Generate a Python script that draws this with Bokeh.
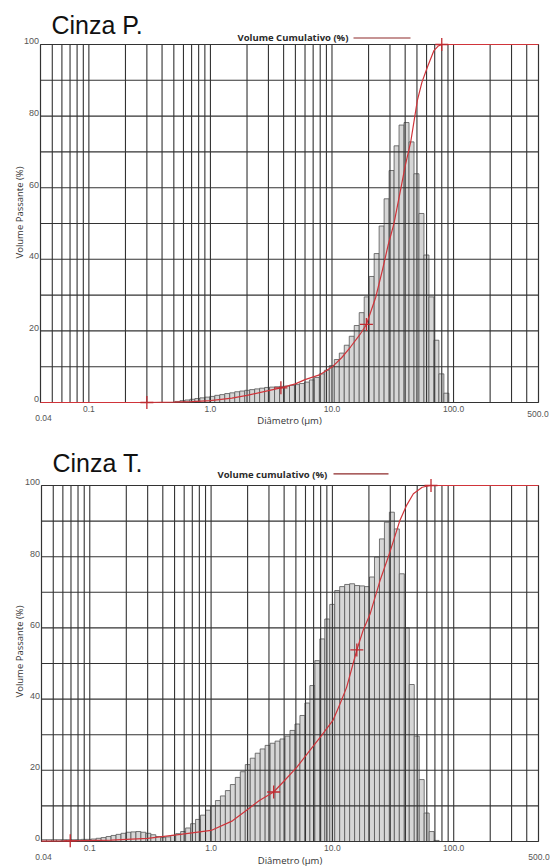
import numpy as np
from math import log10, pi
from bokeh.plotting import figure
from bokeh.models import Range1d, Label
from bokeh.layouts import column
from bokeh.embed import file_html
from bokeh.resources import INLINE

# ---------------- data ----------------
X_MIN, X_MAX = 0.04, 500.0
N_BINS = 100

# Cinza P. : volume per class (100 log classes 0.04-500 um)
P_VOL = [0.0] * 27 + [
    0.3, 0.5, 0.7, 0.9, 1.1, 1.3, 1.5, 1.7, 2.0, 2.2,
    2.5, 2.7, 3.0, 3.2, 3.4, 3.6, 3.8, 4.0, 4.2, 4.3,
    4.4, 4.5, 4.6, 4.8, 5.0, 5.3, 5.7, 6.3, 7.0, 8.0,
    9.0, 10.3, 12.0, 13.8, 16.0, 18.5, 21.5, 25.1, 29.5, 35.2,
    41.6, 49.3, 56.9, 64.8, 71.7, 77.5, 78.2, 72.8, 63.9, 52.8,
    41.2, 29.5, 17.4, 8.0, 2.6] + [0.0] * 18

# Cinza T.
T_VOL = [0.5, 0.5, 0.5, 0.5, 0.5, 0.5, 0.5, 0.5, 0.6, 0.6,
         0.7, 0.9, 1.1, 1.4, 1.7, 2.0, 2.3, 2.6, 2.7, 2.8,
         2.6, 2.3, 1.9, 1.4, 1.1, 1.3, 1.7, 2.2, 2.8, 3.8,
         5.0, 6.2, 7.4, 8.8, 10.0, 11.5, 12.8, 14.3, 16.0, 18.0,
         19.6, 21.6, 23.4, 24.8, 26.0, 27.0, 27.6, 28.2, 28.8, 29.6,
         31.2, 33.0, 35.4, 38.9, 43.8, 50.8, 56.9, 62.5, 66.6, 70.5,
         71.6, 72.2, 72.4, 71.9, 71.8, 71.6, 74.3, 79.9, 85.0, 89.7,
         92.5, 87.8, 75.2, 60.0, 44.1, 29.6, 17.4, 8.0, 2.8, 0.3] + [0.0] * 20

# cumulative curves (diameter um, volume %)
P_CUM_D = [0.04, 0.3, 0.5, 0.7, 1.0, 1.5, 2.0, 3.0, 3.8, 5.0, 6.0, 8.0, 10.0, 12.0,
           14.2, 17.0, 19.2, 22.9, 26.0, 29.0, 32.3, 36.0, 40.0, 44.4, 50.4, 55.0,
           61.0, 69.0, 75.0, 80.0, 500.0]
P_CUM_V = [0.0, 0.0, 0.1, 0.25, 0.5, 1.2, 2.0, 3.3, 4.1, 5.2, 6.4, 7.8, 9.9, 12.5,
           15.5, 19.0, 21.8, 29.4, 37.0, 44.0, 49.9, 58.0, 66.0, 72.7, 84.4, 89.5,
           93.7, 98.3, 99.6, 100.0, 100.0]
T_CUM_D = [0.04, 0.07, 0.15, 0.3, 0.56, 1.0, 1.5, 2.0, 2.5, 3.28, 4.0, 5.1, 6.5, 7.95,
           10.1, 11.5, 13.1, 15.9, 18.0, 20.5, 24.7, 29.8, 36.0, 41.0, 46.5, 55.0,
           63.8, 500.0]
T_CUM_V = [0.1, 0.2, 0.4, 0.9, 2.0, 3.1, 5.8, 9.0, 11.5, 13.9, 17.0, 20.9, 25.5, 29.3,
           34.0, 38.5, 43.3, 53.8, 59.5, 64.0, 73.3, 81.3, 90.2, 94.5, 97.7, 99.5,
           100.0, 100.0]

# cross markers on the curves
P_MARK_D = [0.3, 3.8, 19.2, 80.0]
P_MARK_V = [0.0, 4.1, 21.8, 100.0]
T_MARK_D = [0.069, 3.28, 15.9, 65.0]
T_MARK_V = [0.2, 13.9, 53.8, 100.0]

GRID_X = [0.05, 0.06, 0.07, 0.08, 0.09,
          0.1, 0.2, 0.3, 0.4, 0.5, 0.6, 0.7, 0.8, 0.9,
          1, 2, 3, 4, 5, 6, 7, 8, 9,
          10, 20, 30, 40, 50, 60, 70, 80, 90,
          100, 200, 300, 400]
GRID_Y = [10, 20, 30, 40, 50, 60, 70, 80, 90]
X_TICKS = [0.1, 1, 10, 100]
X_TICK_LABELS = ["0.1", "1.0", "10.0", "100.0"]
Y_TICKS = [0, 20, 40, 60, 80, 100]

edges = np.logspace(log10(X_MIN), log10(X_MAX), N_BINS + 1)

GRID_COL = "#333333"
CURVE_COL = "#d0343a"
LEG_COL = "#8e2a2a"
TICK_FONT = "Liberation Sans"
TXT_FONT = "Open Sans"
TICK_COL = "#555555"
BASE_SHIFT = 0.35   # bokeh places an alphabetic baseline ~0.35em low


def build(title, legend_text, vol, cd, cv, md, mv, H, L, R, T, B, lay):
    a, b = log10(X_MIN), log10(X_MAX)

    def fx(px):
        return 10 ** (a + (px - L) / (R - L) * (b - a))

    def fy(py):
        return (B - py) / (B - T) * 100.0

    def py_of(v):
        return B - v / 100.0 * (B - T)

    # the frame covers the whole canvas; the chart box is drawn in data units
    p = figure(width=551, height=H, x_axis_type="log",
               x_range=Range1d(fx(0), fx(551)), y_range=Range1d(fy(H), fy(0)),
               x_axis_location=None, y_axis_location=None,
               output_backend="svg", toolbar_location=None,
               min_border=0)
    p.title.visible = False
    p.grid.visible = False
    p.outline_line_color = None
    p.background_fill_color = "white"
    p.border_fill_color = "white"

    # histogram bars
    idx = [i for i, v in enumerate(vol) if v > 0]
    p.quad(left=[edges[i] for i in idx], right=[edges[i + 1] for i in idx],
           bottom=0, top=[vol[i] for i in idx],
           fill_color="#d6d6d6", line_color="#555555", line_width=0.8)

    # grid (drawn over the bars, as in the original)
    p.segment(x0=GRID_X, y0=0, x1=GRID_X, y1=100, line_color=GRID_COL, line_width=1.1)
    p.segment(x0=X_MIN, y0=GRID_Y, x1=X_MAX, y1=GRID_Y, line_color=GRID_COL, line_width=1.1)
    # chart box
    p.quad(left=[X_MIN], right=[X_MAX], bottom=[0], top=[100],
           fill_color=None, line_color=GRID_COL, line_width=1.2)

    # cumulative curve + markers
    p.line(cd, cv, line_color=CURVE_COL, line_width=1.2)
    p.scatter(md, mv, marker="cross", size=13, line_color="#c02a30", line_width=1.3)

    def lab(x, py, text, font, size, color, align, baseline="alphabetic",
            angle=0.0, style="normal"):
        if baseline == "alphabetic":
            py = py - BASE_SHIFT * size
        p.add_layout(Label(x=x, y=fy(py), text=text, text_font=font,
                           text_font_size=f"{size}px", text_font_style=style,
                           text_color=color, text_align=align,
                           text_baseline=baseline, angle=angle))

    # title
    lab(fx(lay["title_x"]), lay["title_y"], title, TICK_FONT, 25, "#111111", "left")
    # legend
    lab(fx(lay["leg_x"]), lay["leg_y"], legend_text, TXT_FONT, 9.5, "#2a2a2a", "left",
        style="bold")
    p.line([fx(lay["leg_l0"]), fx(lay["leg_l1"])], [fy(lay["leg_ly"])] * 2,
           line_color=LEG_COL, line_width=1.2)
    # y tick labels
    for v in Y_TICKS:
        lab(fx(L - 1.5), py_of(v), str(v), TICK_FONT, 9, TICK_COL, "right")
    # x tick labels
    for v, t in zip(X_TICKS, X_TICK_LABELS):
        lab(v, B + lay["xt_dy"], t, TICK_FONT, 8.5, TICK_COL, "center")
    lab(fx(43), lay["x0_y"], "0.04", TICK_FONT, 8.5, TICK_COL, "center")
    lab(fx(lay["x1_x"]), lay["x1_y"], "500.0", TICK_FONT, 8.5, TICK_COL, "center")
    # axis titles
    lab(fx(lay["xl_x"]), lay["xl_y"], "Diâmetro (µm)", TXT_FONT, 9.5, "#333333", "center")
    lab(fx(19), lay["yl_y"], "Volume Passante (%)", TXT_FONT, 9.5, "#333333",
        "center", "middle", pi / 2)
    return p


p1 = build("Cinza P.", "Volume Cumulativo (%)", P_VOL, P_CUM_D, P_CUM_V,
           P_MARK_D, P_MARK_V, H=433, L=40, R=538, T=44, B=402,
           lay=dict(title_x=51, title_y=33.3, leg_x=237, leg_y=40.5,
                    leg_l0=353, leg_l1=410, leg_ly=37.5, xt_dy=9.5,
                    x0_y=420.7, x1_x=537.5, x1_y=416.7,
                    xl_x=289, xl_y=423.5, yl_y=212))
p2 = build("Cinza T.", "Volume cumulativo (%)", T_VOL, T_CUM_D, T_CUM_V,
           T_MARK_D, T_MARK_V, H=434, L=41, R=538, T=52, B=408,
           lay=dict(title_x=52, title_y=38, leg_x=217, leg_y=44,
                    leg_l0=333, leg_l1=388, leg_ly=40.3, xt_dy=9.5,
                    x0_y=426, x1_x=538.5, x1_y=426,
                    xl_x=289.5, xl_y=430.5, yl_y=218))

layout = column(p1, p2, spacing=0)
open("out.html", "w").write(file_html(layout, INLINE))
